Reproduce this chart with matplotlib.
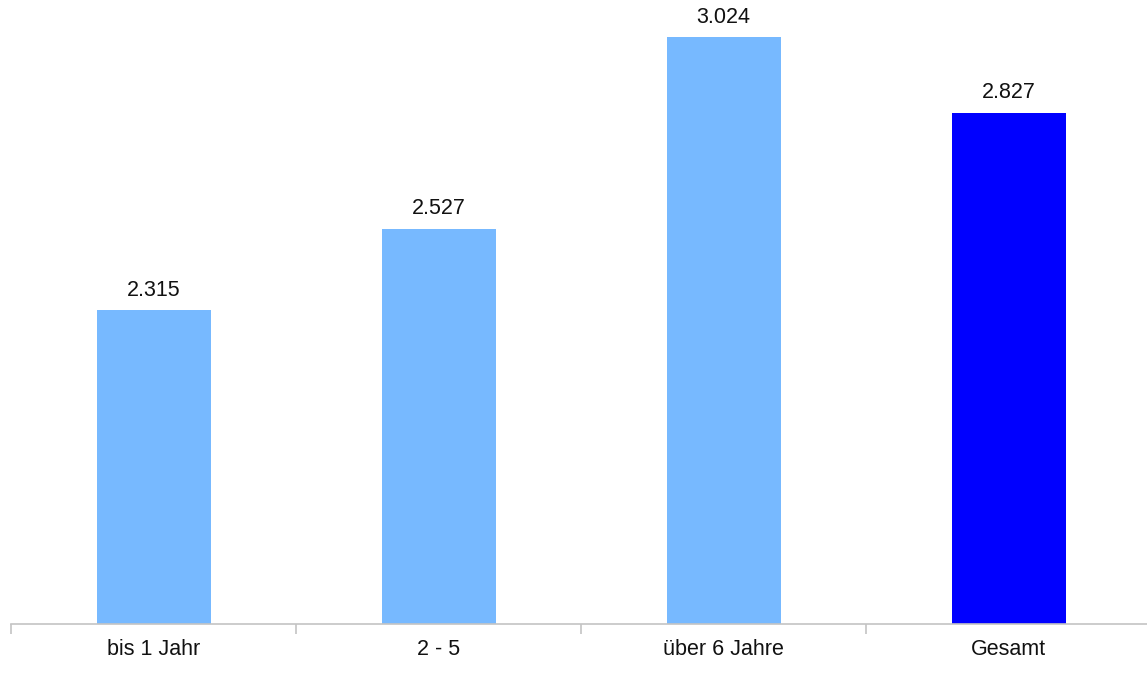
import numpy as np
import matplotlib.pyplot as plt

categories = ['bis 1 Jahr', '2 - 5', 'über 6 Jahre', 'Gesamt']
values = [2.315, 2.527, 3.024, 2.827]
colors = ['#77b9ff', '#77b9ff', '#77b9ff', '#0000ff']

plt.rcParams['font.family'] = ['Liberation Sans', 'DejaVu Sans']

fig = plt.figure(figsize=(11.47, 6.88), dpi=100)
ax = fig.add_axes([11/1147, 64/688, 1140/1147, 624/688])

x = np.arange(len(categories))
bars = ax.bar(x, values, width=0.4, color=colors, bottom=0)
ax.set_xlim(-0.5, 3.5)
ax.set_ylim(1.5, 1.5 + 624/385)

for xi, v in zip(x, values):
    ax.annotate(('%.3f' % v), (xi, v), xytext=(0, 7), textcoords='offset points',
                ha='center', va='bottom', fontsize=15.5, color='#111111')

for s in ['top', 'right', 'left']:
    ax.spines[s].set_visible(False)
ax.spines['bottom'].set_color('#c4c4c4')
ax.spines['bottom'].set_linewidth(1.2)
ax.set_yticks([])

ax.set_xticks(x)
ax.set_xticklabels(categories, fontsize=15.5, color='#111111')
ax.tick_params(axis='x', which='major', length=0, pad=11)
ax.set_xticks(np.arange(-0.5, 3.6, 1), minor=True)
ax.tick_params(axis='x', which='minor', length=7, color='#c4c4c4', width=1.2)

plt.savefig('out.png', dpi=100)
